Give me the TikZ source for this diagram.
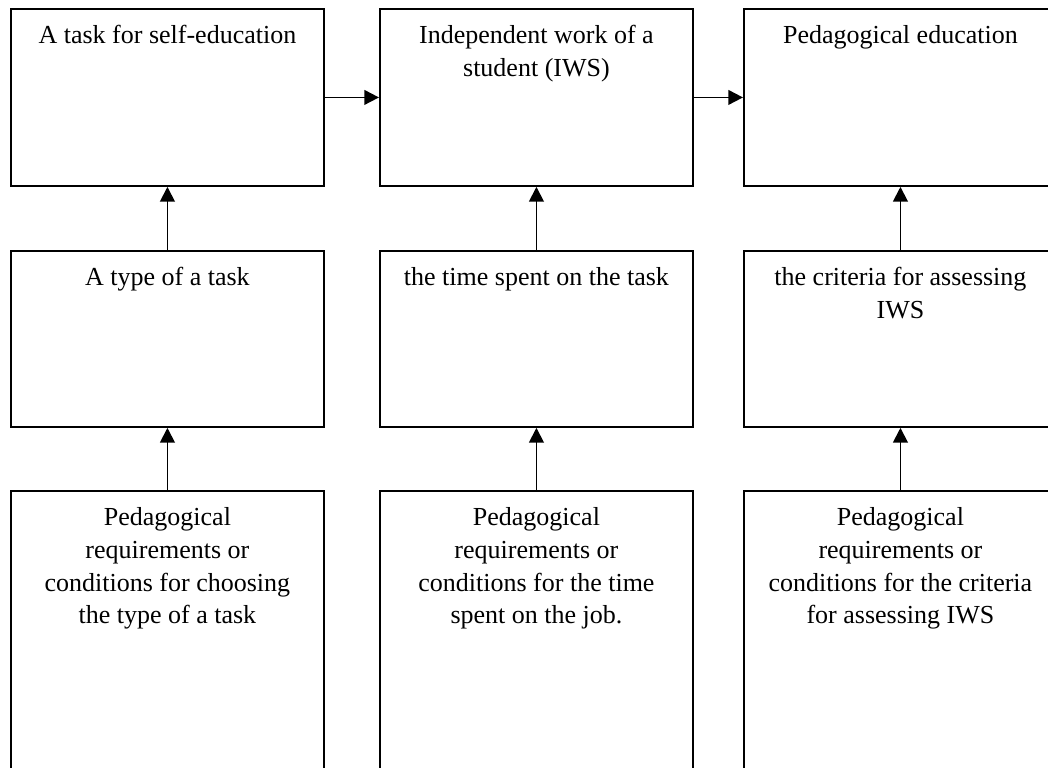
\documentclass[tikz,border=0pt]{standalone}
\usepackage{fontspec}
\setmainfont{Liberation Serif}
\usetikzlibrary{arrows.meta}

\newcommand{\boxtext}[2]{\parbox[t][#1][t]{234.75pt}{\centering\rule{0pt}{26.25pt}#2}}

\begin{document}
\begin{tikzpicture}[x=0.75pt,y=-0.75pt]
\tikzstyle{every node}=[font=\fontsize{19.5}{24.4}\selectfont]
\tikzstyle{stage}=[draw, line width=1.4pt, inner sep=0pt, anchor=north west]
\tikzstyle{link}=[line width=1.4pt, -{Triangle[width=11pt,length=11pt]}]
\useasboundingbox (0,0) rectangle (1048,767);

% top row
    \node[stage] (task) at (10,8) {\boxtext{132.75pt}{A task for self-education}};
    \node[stage] (iws) at (379,8) {\boxtext{132.75pt}{Independent work of a\\ student (IWS)}};
    \node[stage] (edu) at (743,8) {\boxtext{132.75pt}{Pedagogical education}};

% middle row
    \node[stage] (type) at (10,250) {\boxtext{132pt}{A type of a task}};
    \node[stage] (time) at (379,250) {\boxtext{132pt}{the time spent on the task}};
    \node[stage] (crit) at (743,250) {\boxtext{132pt}{the criteria for assessing\\ IWS}};

% bottom row
    \node[stage] (reqtype) at (10,490) {\boxtext{225pt}{Pedagogical\\ requirements or\\ conditions for choosing\\ the type of a task}};
    \node[stage] (reqtime) at (379,490) {\boxtext{225pt}{Pedagogical\\ requirements or\\ conditions for the time\\ spent on the job.}};
    \node[stage] (reqcrit) at (743,490) {\boxtext{225pt}{Pedagogical\\ requirements or\\ conditions for the criteria\\ for assessing IWS}};

    \draw[link] (task.east) -- (iws.west);
    \draw[link] (iws.east) -- (edu.west);

    \draw[link] (type.north) -- (task.south);
    \draw[link] (time.north) -- (iws.south);
    \draw[link] (crit.north) -- (edu.south);

    \draw[link] (reqtype.north) -- (type.south);
    \draw[link] (reqtime.north) -- (time.south);
    \draw[link] (reqcrit.north) -- (crit.south);
\end{tikzpicture}
\end{document}
